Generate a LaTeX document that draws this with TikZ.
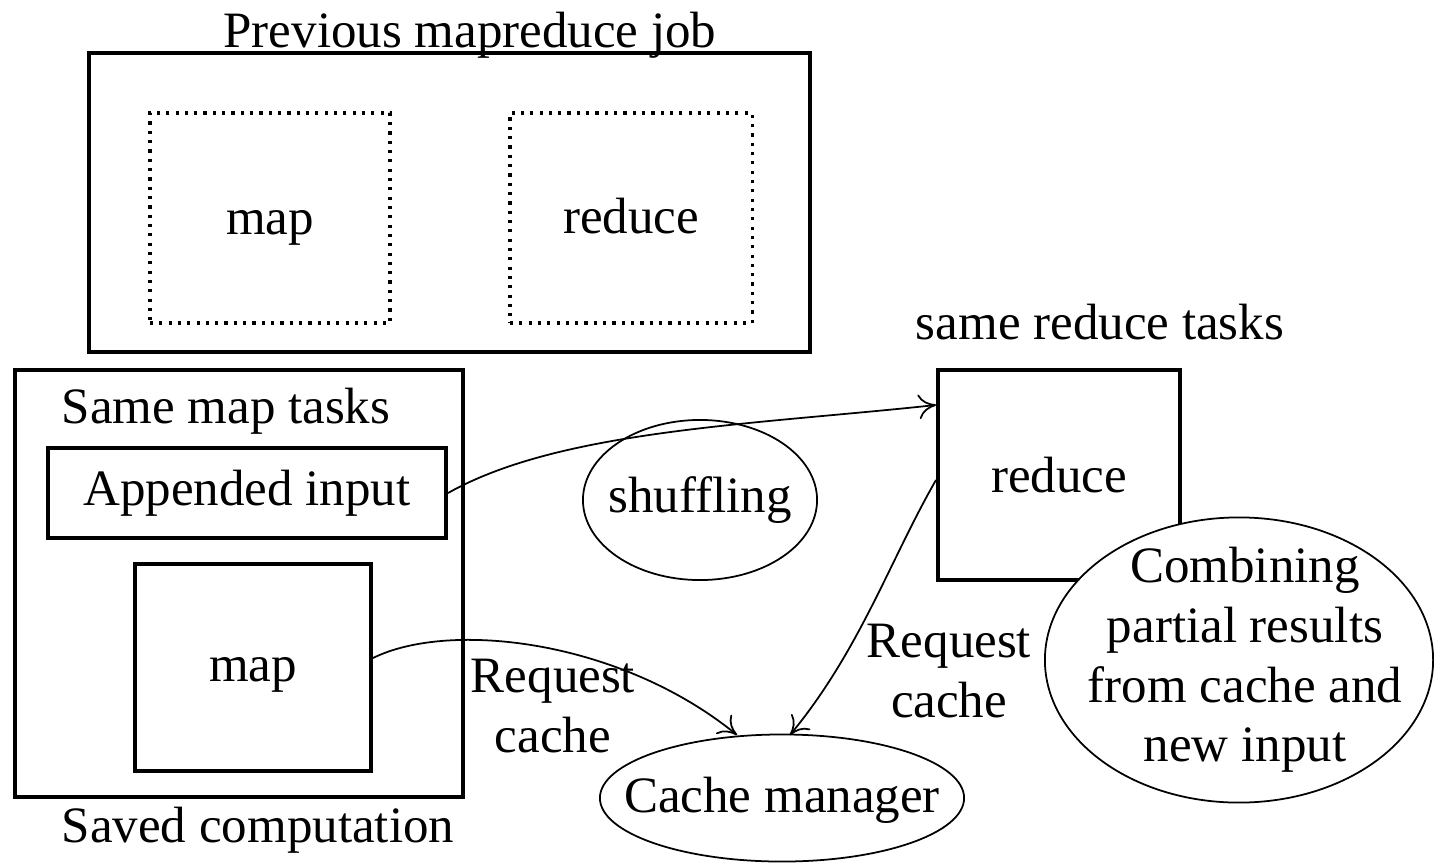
\documentclass[tikz,border=0pt]{standalone}
\usepackage{fontspec}
\setmainfont{Liberation Serif}
\usetikzlibrary{shapes.geometric,arrows.meta}
\begin{document}
\begin{tikzpicture}[x=0.01cm,y=-0.01cm,
  every node/.style={font=\fontsize{14.5}{17}\selectfont, inner sep=0pt},
  thickbox/.style={draw, line width=1.1pt, rectangle},
  dotbox/.style={draw, line width=0.9pt, dash pattern=on 0.9pt off 1.75pt, rectangle},
  oval/.style={draw, ellipse, line width=0.5pt, fill=white},
  conn/.style={line width=0.5pt, -{To[length=5pt,width=7pt]}},
  lbl/.style={align=center}]
\useasboundingbox (0,0) rectangle (1434,867);
% previous job
\node[thickbox, minimum width=7.21cm, minimum height=2.99cm] (prev) at (449.5,202.5) {};
\node (prevt) at (470,35) {Previous mapreduce job};
\node[dotbox, minimum width=2.4cm, minimum height=2.1cm] (pmap) at (270,218) {};
\node (pmapt) at (270,228) {map};
\node[dotbox, minimum width=2.42cm, minimum height=2.1cm] (pred) at (631,218) {};
\node (predt) at (631,216) {reduce};
% saved computation
\node[thickbox, minimum width=4.48cm, minimum height=4.27cm] (saved) at (239,583.5) {};
\node (samemap) at (226,411) {Same map tasks};
\node[thickbox, minimum width=3.98cm, minimum height=0.9cm] (app) at (247,493) {Appended input};
\node[thickbox, minimum width=2.36cm, minimum height=2.07cm] (map) at (253,667.5) {};
\node (mapt) at (253,675) {map};
\node (savedt) at (258,830) {Saved computation};
% shuffling
\node[oval, minimum width=2.34cm, minimum height=1.6cm] (shuf) at (700,500) {};
\node (shuft) at (700,500) {shuffling};
% reduce
\node[thickbox, minimum width=2.42cm, minimum height=2.1cm] (red) at (1059,475) {reduce};
\node (samered) at (1100,322) {same reduce tasks};
\node[oval, minimum width=3.88cm, minimum height=2.85cm] (comb) at (1239,660) {};
\node[lbl] (combt) at (1245,660) {Combining\\partial results\\from cache and\\new input};
% cache manager
\node[oval, minimum width=3.64cm, minimum height=1.27cm] (cm) at (782,798) {};
\node (cmt) at (782,800) {Cache manager};
\node[lbl] (rq1) at (553,706) {Request\\cache};
\node[lbl] (rq2) at (949,671) {Request\\cache};
% connectors
\draw[conn] (app.east) .. controls (560,430) and (750,425) .. (red.west |- 0,405);
\draw[conn] (map.east |- 0,658) .. controls (450,620) and (620,640) .. (737,735);
\draw[conn] (red.west |- 0,480) .. controls (890,560) and (860,650) .. (790,735);
\end{tikzpicture}
\end{document}
